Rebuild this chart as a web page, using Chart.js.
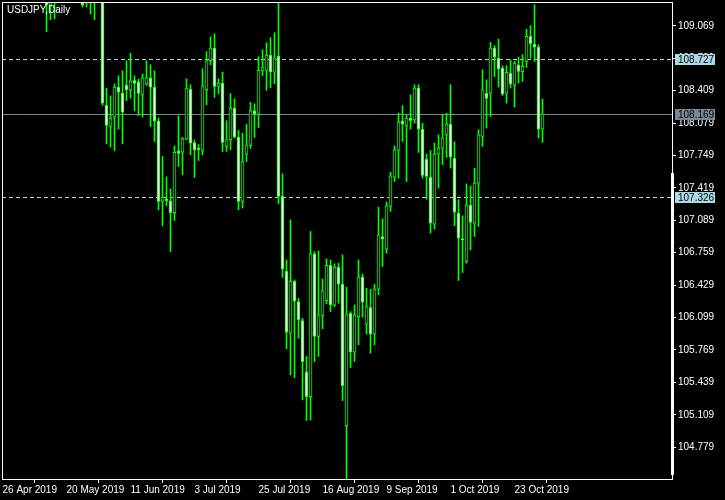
<!DOCTYPE html>
<html>
<head>
<meta charset="utf-8">
<script src="https://cdn.jsdelivr.net/npm/chart.js@4.4.0/dist/chart.umd.min.js"></script>
<style>
  html, body { margin: 0; padding: 0; background: #000; }
</style>
</head>
<body>
<canvas id="chart" width="725" height="500"></canvas>
<script>
// USDJPY daily bars, 26 Apr 2019 - 1 Nov 2019
const dates = [
  '26 Apr','29 Apr','30 Apr','1 May','2 May','3 May','6 May','7 May','8 May','9 May','10 May',
  '13 May','14 May','15 May','16 May','17 May','20 May','21 May','22 May','23 May','24 May',
  '27 May','28 May','29 May','30 May','31 May','3 Jun','4 Jun','5 Jun','6 Jun','7 Jun',
  '10 Jun','11 Jun','12 Jun','13 Jun','14 Jun','17 Jun','18 Jun','19 Jun','20 Jun','21 Jun',
  '24 Jun','25 Jun','26 Jun','27 Jun','28 Jun','1 Jul','2 Jul','3 Jul','4 Jul','5 Jul',
  '8 Jul','9 Jul','10 Jul','11 Jul','12 Jul','15 Jul','16 Jul','17 Jul','18 Jul','19 Jul',
  '22 Jul','23 Jul','24 Jul','25 Jul','26 Jul','29 Jul','30 Jul','31 Jul','1 Aug','2 Aug',
  '5 Aug','6 Aug','7 Aug','8 Aug','9 Aug','12 Aug','13 Aug','14 Aug','15 Aug','16 Aug',
  '19 Aug','20 Aug','21 Aug','22 Aug','23 Aug','26 Aug','27 Aug','28 Aug','29 Aug','30 Aug',
  '2 Sep','3 Sep','4 Sep','5 Sep','6 Sep','9 Sep','10 Sep','11 Sep','12 Sep','13 Sep',
  '16 Sep','17 Sep','18 Sep','19 Sep','20 Sep','23 Sep','24 Sep','25 Sep','26 Sep','27 Sep',
  '30 Sep','1 Oct','2 Oct','3 Oct','4 Oct','7 Oct','8 Oct','9 Oct','10 Oct','11 Oct',
  '14 Oct','15 Oct','16 Oct','17 Oct','18 Oct','21 Oct','22 Oct','23 Oct','24 Oct','25 Oct',
  '28 Oct','29 Oct','30 Oct','31 Oct','1 Nov'
];

const opens = [
  111.60,111.55,111.65,111.40,111.50,111.55,110.90,110.70,110.25,110.10,
  109.70,109.95,109.28,109.58,109.60,109.85,110.07,110.05,110.50,110.35,
  109.60,109.35,109.45,109.40,109.60,109.60,108.261,108.044,108.139,108.444,
  108.383,108.465,108.417,108.515,108.499,108.370,108.478,108.539,108.444,108.101,
  107.280,107.307,107.287,107.168,107.796,107.782,107.915,108.424,107.881,107.823,
  107.800,108.418,108.713,108.842,108.452,108.486,107.841,107.909,108.231,107.936,
  107.281,107.763,107.851,108.207,108.170,108.615,108.615,108.771,108.598,108.764,
  107.332,106.571,105.940,106.469,106.262,106.069,105.543,105.295,106.748,105.906,
  106.120,106.272,106.632,106.225,106.612,106.439,104.999,106.143,105.746,106.109,
  106.510,106.031,106.201,105.930,106.388,106.924,106.795,107.230,107.528,107.800,
  108.102,108.054,108.129,108.112,108.435,108.017,107.712,107.528,107.050,107.763,
  107.824,107.959,108.068,107.722,107.162,106.900,106.670,107.243,107.060,107.467,
  107.942,108.384,108.384,108.842,108.740,108.638,108.384,108.587,108.465,108.672,
  108.601,108.706,108.961,108.883,108.852,108.017
];
const highs = [
  111.70,111.75,111.70,111.60,111.70,111.70,111.00,110.90,110.40,110.20,
  110.10,109.98,109.65,109.70,109.95,110.20,110.30,110.65,110.70,110.40,
  109.70,109.60,109.60,109.80,109.90,109.65,108.434,108.356,108.478,108.560,
  108.611,108.712,108.790,108.560,108.526,108.577,108.712,108.672,108.611,108.132,
  107.738,107.531,107.409,107.847,108.152,107.932,108.529,108.468,107.908,107.860,
  108.631,108.805,108.957,108.988,108.530,108.598,108.102,108.377,108.326,108.004,
  107.976,108.068,108.289,108.275,108.754,108.825,108.896,108.947,108.998,109.307,
  107.562,106.686,107.094,106.483,106.296,106.092,105.702,106.975,106.771,106.778,
  106.493,106.697,106.686,106.646,106.653,106.737,106.408,106.160,106.228,106.686,
  106.541,106.398,106.388,106.439,107.223,107.104,107.274,107.579,107.847,108.180,
  108.255,108.163,108.367,108.469,108.469,108.078,107.763,107.800,107.875,107.959,
  108.170,108.180,108.469,107.888,107.298,107.135,107.460,107.440,107.620,108.010,
  108.621,108.519,108.900,108.866,108.934,108.662,108.662,108.723,108.706,108.750,
  108.774,109.035,109.069,109.283,108.876,108.323
];
const lows = [
  111.40,111.40,111.30,111.30,111.40,110.90,110.30,110.20,109.90,109.50,
  109.45,109.01,109.13,109.14,109.50,109.75,109.90,110.00,110.20,109.55,
  109.26,109.26,109.19,109.13,109.35,108.26,107.867,107.833,107.799,108.017,
  107.867,108.305,108.332,108.203,108.156,108.139,108.461,108.044,107.891,107.195,
  107.032,107.239,106.771,107.087,107.636,107.552,107.908,107.755,107.524,107.698,
  107.756,108.265,108.672,108.340,108.377,107.790,107.790,107.807,107.926,107.196,
  107.213,107.688,107.820,107.932,108.034,108.560,108.411,108.441,108.479,107.257,
  106.507,105.780,105.516,105.488,105.889,105.261,105.051,105.057,105.651,105.702,
  105.984,106.238,106.160,106.211,106.245,105.254,104.460,105.590,105.651,105.821,
  106.103,105.930,105.736,105.821,106.330,106.619,106.755,107.179,107.484,107.518,
  107.892,107.484,108.017,108.078,107.779,107.518,107.304,106.958,106.999,107.416,
  107.654,107.729,107.620,107.033,106.476,106.558,106.653,106.788,106.924,107.026,
  107.841,108.027,108.146,108.553,108.445,108.360,108.282,108.435,108.241,108.486,
  108.502,108.645,108.740,108.706,107.926,107.881
];
const closes = [
  111.55,111.65,111.40,111.50,111.55,111.10,110.70,110.25,110.10,109.70,
  109.95,109.28,109.58,109.60,109.85,110.07,110.05,110.50,110.35,109.60,
  109.28,109.45,109.40,109.60,109.62,108.28,108.054,108.129,108.444,108.393,
  108.190,108.417,108.505,108.482,108.380,108.539,108.539,108.444,108.098,107.280,
  107.324,107.290,107.168,107.782,107.769,107.922,108.434,107.874,107.806,107.806,
  108.458,108.713,108.842,108.452,108.486,107.881,107.909,108.231,107.936,107.281,
  107.688,107.854,108.207,108.170,108.615,108.648,108.771,108.598,108.740,107.332,
  106.591,105.950,106.469,106.266,106.076,105.651,105.295,106.748,105.906,106.126,
  106.371,106.632,106.228,106.612,106.439,105.407,106.126,105.746,106.126,106.510,
  106.255,106.211,105.930,106.388,106.941,106.897,107.236,107.542,107.807,108.088,
  108.068,108.129,108.102,108.435,108.017,107.545,107.535,107.060,107.763,107.824,
  107.925,108.068,107.732,107.172,106.907,106.890,107.243,107.067,107.467,107.959,
  108.418,108.329,108.842,108.750,108.628,108.373,108.594,108.475,108.689,108.604,
  108.655,108.961,108.886,108.852,108.017,108.170
];

// axis labels
const tickBars = [0, 16, 32, 48, 64, 80, 96, 112, 128];
const tickLabels = ['26 Apr 2019', '20 May 2019', '11 Jun 2019', '3 Jul 2019', '25 Jul 2019',
  '16 Aug 2019', '9 Sep 2019', '1 Oct 2019', '23 Oct 2019'];
const priceTicks = [104.779, 105.109, 105.439, 105.769, 106.099, 106.429, 106.759,
  107.089, 107.419, 107.749, 108.079, 108.409, 108.739, 109.069];

// horizontal lines (two dashed levels + bid line)
const levelValues = [108.727, 108.169, 107.326];
const levelColors = ['#add8e6', '#778899', '#add8e6'];
const levelDashed = [true, false, true];

const FONT = 'Liberation Sans';
Chart.defaults.font.family = FONT;
Chart.defaults.font.size = 10;
Chart.defaults.color = '#fff';

const wickData = dates.map((d, i) => ({x: i, y: [lows[i], highs[i]]}));
const bodyData = dates.map((d, i) => ({x: i, y: [Math.min(opens[i], closes[i]), Math.max(opens[i], closes[i])]}));
const bodyFill = dates.map((d, i) => closes[i] >= opens[i] ? '#000000' : '#ffffff');

const mtPlugin = {
  id: 'mt',
  beforeDatasetsDraw(chart) {
    const {ctx, chartArea: a, scales: {y}} = chart;
    ctx.save();
    levelValues.forEach((v, k) => {
      const py = Math.round(y.getPixelForValue(v)) + 0.5;
      ctx.strokeStyle = levelColors[k];
      ctx.lineWidth = 1;
      ctx.setLineDash(levelDashed[k] ? [4, 3] : []);
      ctx.beginPath();
      ctx.moveTo(a.left, py);
      ctx.lineTo(a.right, py);
      ctx.stroke();
    });
    ctx.restore();
  },
  afterDraw(chart) {
    const {ctx, chartArea: a, scales: {y}} = chart;
    ctx.save();
    // frame
    ctx.strokeStyle = '#fff';
    ctx.lineWidth = 1;
    ctx.strokeRect(a.left + 0.5, a.top + 0.5, a.right - a.left, a.bottom - a.top);
    // thick marker on the right edge
    ctx.fillStyle = '#fff';
    ctx.fillRect(a.right - 1, a.top + 171, 3, a.bottom - a.top - 175);
    // level price labels
    ctx.font = '10px ' + FONT;
    ctx.textBaseline = 'middle';
    levelValues.forEach((v, k) => {
      const py = Math.round(y.getPixelForValue(v));
      ctx.fillStyle = levelColors[k];
      ctx.fillRect(a.right + 3, py - 5, 40, 11);
      ctx.fillStyle = '#000';
      ctx.fillText(v.toFixed(3), a.right + 6, py + 1);
    });
    // symbol caption
    ctx.fillStyle = '#fff';
    ctx.textBaseline = 'alphabetic';
    ctx.fillText('USDJPY,Daily', 7, 13);
    ctx.restore();
  }
};

new Chart(document.getElementById('chart'), {
  type: 'bar',
  data: {
    datasets: [
      {
        data: bodyData,
        backgroundColor: bodyFill,
        borderColor: '#00ff00',
        borderWidth: 1,
        borderSkipped: false,
        barThickness: 3,
        grouped: false,
        clip: 0,
        order: 1
      },
      {
        data: wickData,
        backgroundColor: '#00ff00',
        borderWidth: 0,
        barThickness: 1,
        grouped: false,
        clip: 0,
        order: 2
      }
    ]
  },
  options: {
    responsive: false,
    animation: false,
    events: [],
    layout: {padding: {left: 2, top: 2, right: 0, bottom: 0}},
    plugins: {legend: {display: false}, tooltip: {enabled: false}},
    scales: {
      x: {
        type: 'linear',
        min: -0.125,
        max: 167.375,
        offset: false,
        border: {display: false},
        grid: {drawOnChartArea: false, drawTicks: true, tickLength: 4, color: '#fff'},
        ticks: {
          align: 'start',
          maxRotation: 0,
          autoSkip: false,
          padding: 1,
          callback: (v) => tickLabels[tickBars.indexOf(v)]
        },
        afterBuildTicks: (s) => { s.ticks = tickBars.map(v => ({value: v})); },
        afterFit: (s) => { s.height = 21; s.paddingLeft = 0; s.paddingRight = 0; }
      },
      y: {
        type: 'linear',
        position: 'right',
        min: 104.456,
        max: 109.311,
        border: {display: false},
        grid: {drawOnChartArea: false, drawTicks: true, tickLength: 4, color: '#fff'},
        ticks: {padding: 2, callback: (v) => v.toFixed(3)},
        afterBuildTicks: (s) => { s.ticks = priceTicks.map(v => ({value: v})); },
        afterFit: (s) => { s.width = 53; s.paddingTop = 0; s.paddingBottom = 0; }
      }
    }
  },
  plugins: [mtPlugin]
});
</script>
</body>
</html>
